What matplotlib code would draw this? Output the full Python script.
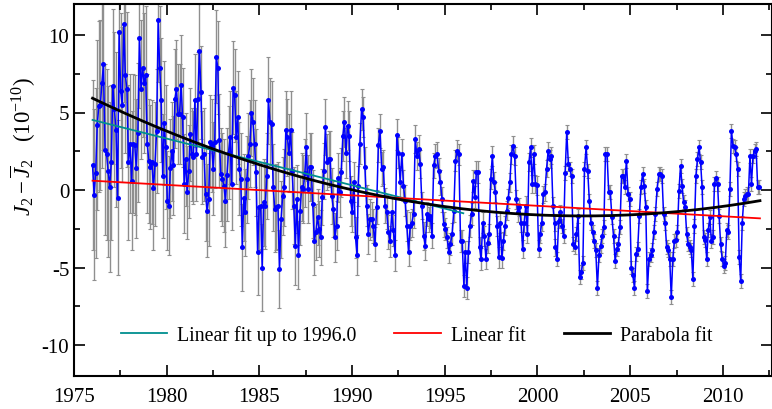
import numpy as np
import matplotlib
matplotlib.use("Agg")
import matplotlib.pyplot as plt
from matplotlib.ticker import MultipleLocator

plt.rcParams['font.family'] = ['Liberation Serif', 'DejaVu Serif']
plt.rcParams['mathtext.fontset'] = 'custom'
plt.rcParams['mathtext.rm'] = 'Liberation Serif'
plt.rcParams['mathtext.it'] = 'Liberation Serif:italic'
plt.rcParams['axes.unicode_minus'] = False

# ---- data: J2 anomaly (1e-10) ----
seg_a = [1.6, -0.3, 1.1, 4.2, 5.4, 5.5, 6.9, 8.1, 2.6, 2.3, 1.2, 0.2,
         1.8, 6.7, 5.2, 3.9, -0.5, 10.2, 6.4, 5.5, 10.7, 7.4, 6.5, 1.8,
         3.0, 0.6, 3.0, 2.9, 1.4, 3.7, 9.8, 6.5, 7.9, 6.9, 7.4, 3.0,
         1.9, 1.5, 1.8, 0.1, 1.7, 3.8, 11.0]
seg_b = [7.9, 5.8, 0.9, 4.3, 2.8, -0.7, -1.0, 1.4, 2.5, 1.6, 5.9, 6.5,
         4.9, 4.9, 6.8, 4.7, 0.4, 2.0, -0.15, 1.2, 3.6, 2.3, 2.1, 5.8,
         2.3, 5.9, 9.0, 6.3, 2.1, 2.3, -0.26, -1.34, -0.6, 3.1, 2.9, 1.36,
         3.1, 8.6, 7.9, 3.2, 1.03, 0.7, 0.28, -0.7, 1.0, 2.4, 3.4, 0.4,
         6.6, 6.1, 3.4, 4.7, 1.36, 0.7, -3.7, -0.5, -1.44, 0.7, 2.2, 3.0,
         5.0, 4.4, 3.0, 1.14, -4.0, -1.1, -1.0, -5.0]
seg_c = [-0.8, -1.0, 0.9, 5.8, 4.4, 4.26, 0.17, -1.2, -1.1, -1.0, -5.1, -1.9,
         -0.4, 0.17, 3.9, 3.4, 2.4, 3.9, 1.25, -1.0, -3.6, -0.6, -4.2, -1.34,
         0.17, 0.06, 1.1, 2.75, 0.06, 1.46, 1.5, -0.9, -3.3, -2.7, -1.76, -2.5,
         -3.06, -0.47, 1.25, 4.05, 1.8, 2.0, 2.0, -0.37, -1.2, -3.06, -2.3, 0.8,
         -0.15, 1.14, 3.5, 4.4, 2.4, 4.15, 3.5, -0.7, -1.44, 0.5, -3.06, -4.2]
seg_d = [0.28, 3.0, 5.2, 4.7, 1.46, -1.0, -2.84, -1.9, -1.9, -2.3, -3.5, -1.1,
         2.9, 3.8, 1.36, 1.5, -1.0, -1.44, -2.7, -3.3, -1.44, -2.6, -4.2, 3.55,
         2.4, 0.54, 2.3, 0.28, -0.7, -2.3, -4.0, -2.3, -2.1, -1.55, 3.3, 2.2,
         2.65, 1.7, -1.0, -2.95, -3.6, -1.55, -1.9, -1.66, -2.95, 1.6, 2.2, 2.3,
         1.25, 0.5, -0.6, -2.2, -2.5, -3.06, -4.0, -3.5, -2.84, -1.34, 1.9, 2.54,
         2.3, -3.3, -3.3, -6.2]
seg_e = [-4.0, -6.3, -4.0, -2.3, -1.55, 0.6, -0.47, 1.14, 1.14, -3.7, -4.45, -2.1,
         -2.95, -4.45, -3.4, -2.84, 0.7, 2.2, 0.5, -0.15, -2.3, -4.35, -2.1, -4.4,
         -3.3, -2.3, -1.34, -0.54, 0.5, 2.3, 2.86, 2.2, -0.6, -1.44, -1.1, -2.1,
         -3.8, -2.1, -1.0, -2.84, 1.8, 2.75, 0.4, 2.3, 0.4, 0.3, -3.8, -2.84,
         -2.1, -0.26, -0.15, 1.36, 2.54, 2.0, 2.2, -1.0, -2.1]
seg_f = [-3.7, -4.45, -1.98, -1.44, -2.3, -2.95, 1.08, 3.77, 1.68, 1.36, 0.88, -3.5,
         -3.7, -2.84, -1.66, -5.64, -5.3, -4.7, 1.36, 2.75, 1.25, -0.7, -2.1, -2.7,
         -3.3, -3.9, -6.3, -4.2, -3.6, -2.95, -2.4, 2.3, 2.3, -0.15, -0.15, -1.76,
         -2.95, -4.57, -3.8, -3.5, -2.4, 0.92, 0.92, 0.17, 1.9, -0.26, -0.6, -5.0,
         -5.5, -6.3, -4.1, -3.8, -1.66, 0.17, 1.03, 0.28, -1.1, -6.5, -4.45, -4.2,
         -3.9, -2.7, -1.55, 0.06]
seg_g = [1.03, 1.03, 0.9, -1.55, -2.1, -3.7, -3.9, -4.45, -6.93, -4.45, -3.3, -3.2,
         -2.7, -0.05, 1.57, 0.28, -0.8, -1.1, -2.84, -3.5, -3.7, -3.9, -5.75, -2.3,
         0.92, 2.0, 2.75, 1.8, 0.17, -3.06, -3.2, -4.45, -2.6, -1.76, -3.3, -3.06,
         0.4, 0.8, 0.4, -1.66, -3.5, -4.45, -4.9, -4.7, -2.6, -2.7, 0.06, 3.83,
         2.86, 2.75, 2.3, 1.36, -4.35, -5.86, -2.1, -0.6, -0.37, -0.26, -0.26, 2.2,
         0.4, 2.2, 2.54, 2.65, 0.17, 0.17]
segments = [seg_a, seg_b, seg_c, seg_d, seg_e, seg_f, seg_g]
# first / last date of each segment (decimal years)
seg_start = [1976.00, 1979.62, 1985.23, 1990.33, 1996.10, 2000.97, 2006.55]
seg_end = [1979.54, 1985.15, 1990.27, 1996.03, 2000.92, 2006.45, 2011.96]

# typical error-bar half length per calendar year 1976..2011
err_years = list(range(1976, 2012))
err_by_year = [5.5, 5.0, 4.5, 4.0, 3.2, 3.0, 3.0, 3.0, 2.8, 2.8, 2.5, 2.2,
               1.8, 1.6, 1.3, 1.1, 1.0, 0.9, 0.8, 0.7, 0.7, 0.65, 0.6, 0.6,
               0.55, 0.45, 0.45, 0.45, 0.45, 0.45, 0.45, 0.45, 0.45, 0.45, 0.45, 0.45]

# fit parameters
teal_range = [1976.0, 1996.0]
teal_coef = [4.52, -0.301]          # value at 1976, slope per year
red_range = [1976.0, 2012.0]
red_coef = [0.60, -0.0675]          # value at 1976, slope per year
par_range = [1976.0, 2012.0]
par_t0 = 1994.0
par_coef = [0.01084, -0.1836, -0.8964]   # a, b, c in a*t^2+b*t+c, t=year-t0

legend_labels = ["Linear fit up to 1996.0", "Linear fit", "Parabola fit"]

# ---- build arrays ----
years = np.concatenate([np.linspace(s, e, len(v)) for v, s, e in zip(segments, seg_start, seg_end)])
values = np.concatenate([np.array(v, float) for v in segments])
err_map = dict(zip(err_years, err_by_year))
errs = np.array([err_map[int(np.floor(y))] for y in years])

fig = plt.figure(figsize=(7.72, 4.10), dpi=100)
ax = fig.add_axes([74/772, 1-377/410, (772-74)/772, (377-5)/410])

ax.errorbar(years, values, yerr=errs, fmt='none', ecolor='#8f8f8f', elinewidth=1.0,
            capsize=1.2, capthick=0.8, zorder=1)
ax.plot(years, values, '-', color='#0000ff', lw=1.1, zorder=2)
ax.plot(years, values, 'o', color='#0000ff', ms=3.6, mew=0, zorder=3)

tt = np.linspace(teal_range[0], teal_range[1], 50)
l1, = ax.plot(tt, teal_coef[0] + teal_coef[1]*(tt-1976.0), color='#008f8f', lw=1.3, zorder=4)
tr = np.linspace(red_range[0], red_range[1], 50)
l2, = ax.plot(tr, red_coef[0] + red_coef[1]*(tr-1976.0), color='#ff0000', lw=1.3, zorder=4)
tp = np.linspace(par_range[0], par_range[1], 200)
u = tp - par_t0
l3, = ax.plot(tp, par_coef[0]*u**2 + par_coef[1]*u + par_coef[2], color='black', lw=2.0, zorder=5)

ax.set_xlim(1975, 2012.65)
ax.set_ylim(-12, 12)
ax.xaxis.set_major_locator(MultipleLocator(5))
ax.xaxis.set_minor_locator(MultipleLocator(2.5))
ax.yaxis.set_major_locator(MultipleLocator(5))
ax.yaxis.set_minor_locator(MultipleLocator(2.5))
ax.tick_params(which='both', direction='in', top=True, right=True, width=1.2, labelsize=15)
ax.tick_params(which='major', length=8)
ax.tick_params(which='minor', length=4.5)
ax.tick_params(axis='x', pad=8)
for sp in ax.spines.values():
    sp.set_linewidth(1.5)

ax.set_ylabel(r'$J_{2}-\overline{J}_{2}$   (10$^{-10}$)', fontsize=16.5)
ax.yaxis.set_label_coords(-0.052, 0.62)

ax.legend([l1, l2, l3], legend_labels, loc='center left', bbox_to_anchor=(0.067, 0.11),
          ncol=3, frameon=False, fontsize=14.3, handlelength=2.35, handletextpad=0.5,
          columnspacing=1.9, borderaxespad=0, borderpad=0)

fig.savefig('out.png', dpi=100)
